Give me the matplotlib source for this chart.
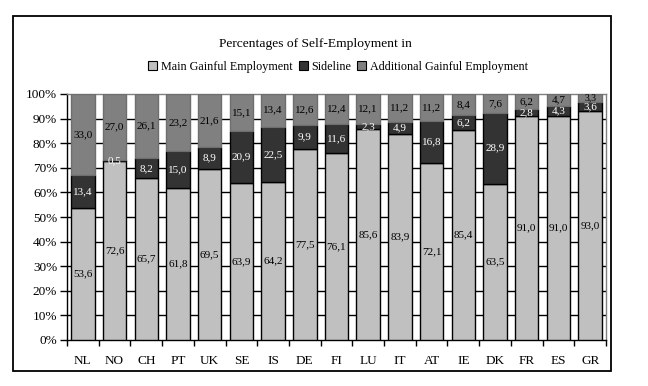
import matplotlib
matplotlib.use("Agg")
import matplotlib.pyplot as plt
from matplotlib.patches import Rectangle, Patch
import numpy as np

countries = ["NL", "NO", "CH", "PT", "UK", "SE", "IS", "DE", "FI", "LU", "IT", "AT", "IE", "DK", "FR", "ES", "GR"]
main_gainful = [53.6, 72.6, 65.7, 61.8, 69.5, 63.9, 64.2, 77.5, 76.1, 85.6, 83.9, 72.1, 85.4, 63.5, 91.0, 91.0, 93.0]
sideline = [13.4, 0.5, 8.2, 15.0, 8.9, 20.9, 22.5, 9.9, 11.6, 2.3, 4.9, 16.8, 6.2, 28.9, 2.8, 4.3, 3.6]
additional = [33.0, 27.0, 26.1, 23.2, 21.6, 15.1, 13.4, 12.6, 12.4, 12.1, 11.2, 11.2, 8.4, 7.6, 6.2, 4.7, 3.3]
series_names = ["Main Gainful Employment", "Sideline", "Additional Gainful Employment"]
title = "Percentages of Self-Employment in"
yticks = [0, 10, 20, 30, 40, 50, 60, 70, 80, 90, 100]

plt.rcParams['font.family'] = ['Liberation Serif', 'DejaVu Serif']

W, H = 648, 386
fig = plt.figure(figsize=(W / 100, H / 100), dpi=100)

# outer frame
fig.patches.append(Rectangle((13 / W, 1 - 371 / H), (611 - 13) / W, (371 - 16) / H,
                             transform=fig.transFigure, fill=False, edgecolor='black', linewidth=1.3))

ax = fig.add_axes([67 / W, 1 - 340 / H, (606 - 67) / W, (340 - 94) / H])

x = np.arange(len(countries))
c_main, c_side, c_add = '#c0c0c0', '#333333', '#808080'
bw = 0.74
main = np.array(main_gainful)
side = np.array(sideline)
add = np.array(additional)

ax.bar(x, main, bw, color=c_main, edgecolor='black', linewidth=1.0, zorder=3)
ax.bar(x, side, bw, bottom=main, color=c_side, edgecolor='black', linewidth=1.0, zorder=3)
ax.bar(x, add, bw, bottom=main + side, color=c_add, edgecolor='#6e6e6e', linewidth=1.0, zorder=3)

def fmt(v):
    return f"{v:.1f}".replace('.', ',')

fs = 8
for i in range(len(countries)):
    ax.text(x[i], main[i] / 2, fmt(main[i]), ha='center', va='center', fontsize=fs, color='black', zorder=5)
    ax.text(x[i], main[i] + side[i] / 2, fmt(side[i]), ha='center', va='center', fontsize=fs, color='white', zorder=5)
    small = add[i] < 4
    ax.text(x[i], main[i] + side[i] + add[i] / 2 + (0.4 if small else 0), fmt(add[i]), ha='center',
            va='center', fontsize=(7 if small else fs), color='black', zorder=5)

ax.set_xlim(-0.5, len(countries) - 0.5)
ax.set_ylim(0, 100)
ax.set_yticks(yticks)
ax.set_yticklabels([f"{t}%" for t in yticks], fontsize=9.5)
ax.set_xticks(x)
ax.set_xticklabels(countries, fontsize=9.5)
ax.tick_params(axis='x', which='major', length=0, pad=11)
ax.set_xticks(np.arange(-0.5, len(countries)), minor=True)
ax.tick_params(axis='x', which='minor', length=4, width=1, direction='out', color='black')
ax.tick_params(axis='y', length=5, width=1, direction='out', pad=2)

for yv in yticks[1:-1]:
    ax.axhline(yv, color='black', linewidth=1.0, zorder=1)

ax.spines['left'].set_color('black')
ax.spines['bottom'].set_color('black')
ax.spines['top'].set_color('#808080')
ax.spines['right'].set_color('#808080')
for s in ax.spines.values():
    s.set_linewidth(1.0)

fig.text(315 / W, 1 - 44 / H, title, ha='center', va='center', fontsize=9.7)

handles = [Patch(facecolor=c, edgecolor='black', linewidth=0.8) for c in (c_main, c_side, c_add)]
fig.legend(handles, series_names, loc='center', bbox_to_anchor=(338 / W, 1 - 67 / H), ncol=3,
           frameon=False, fontsize=8.7, handlelength=0.75, handleheight=0.75, handletextpad=0.3,
           columnspacing=0.5, borderpad=0)

fig.savefig("out.png", dpi=100)
